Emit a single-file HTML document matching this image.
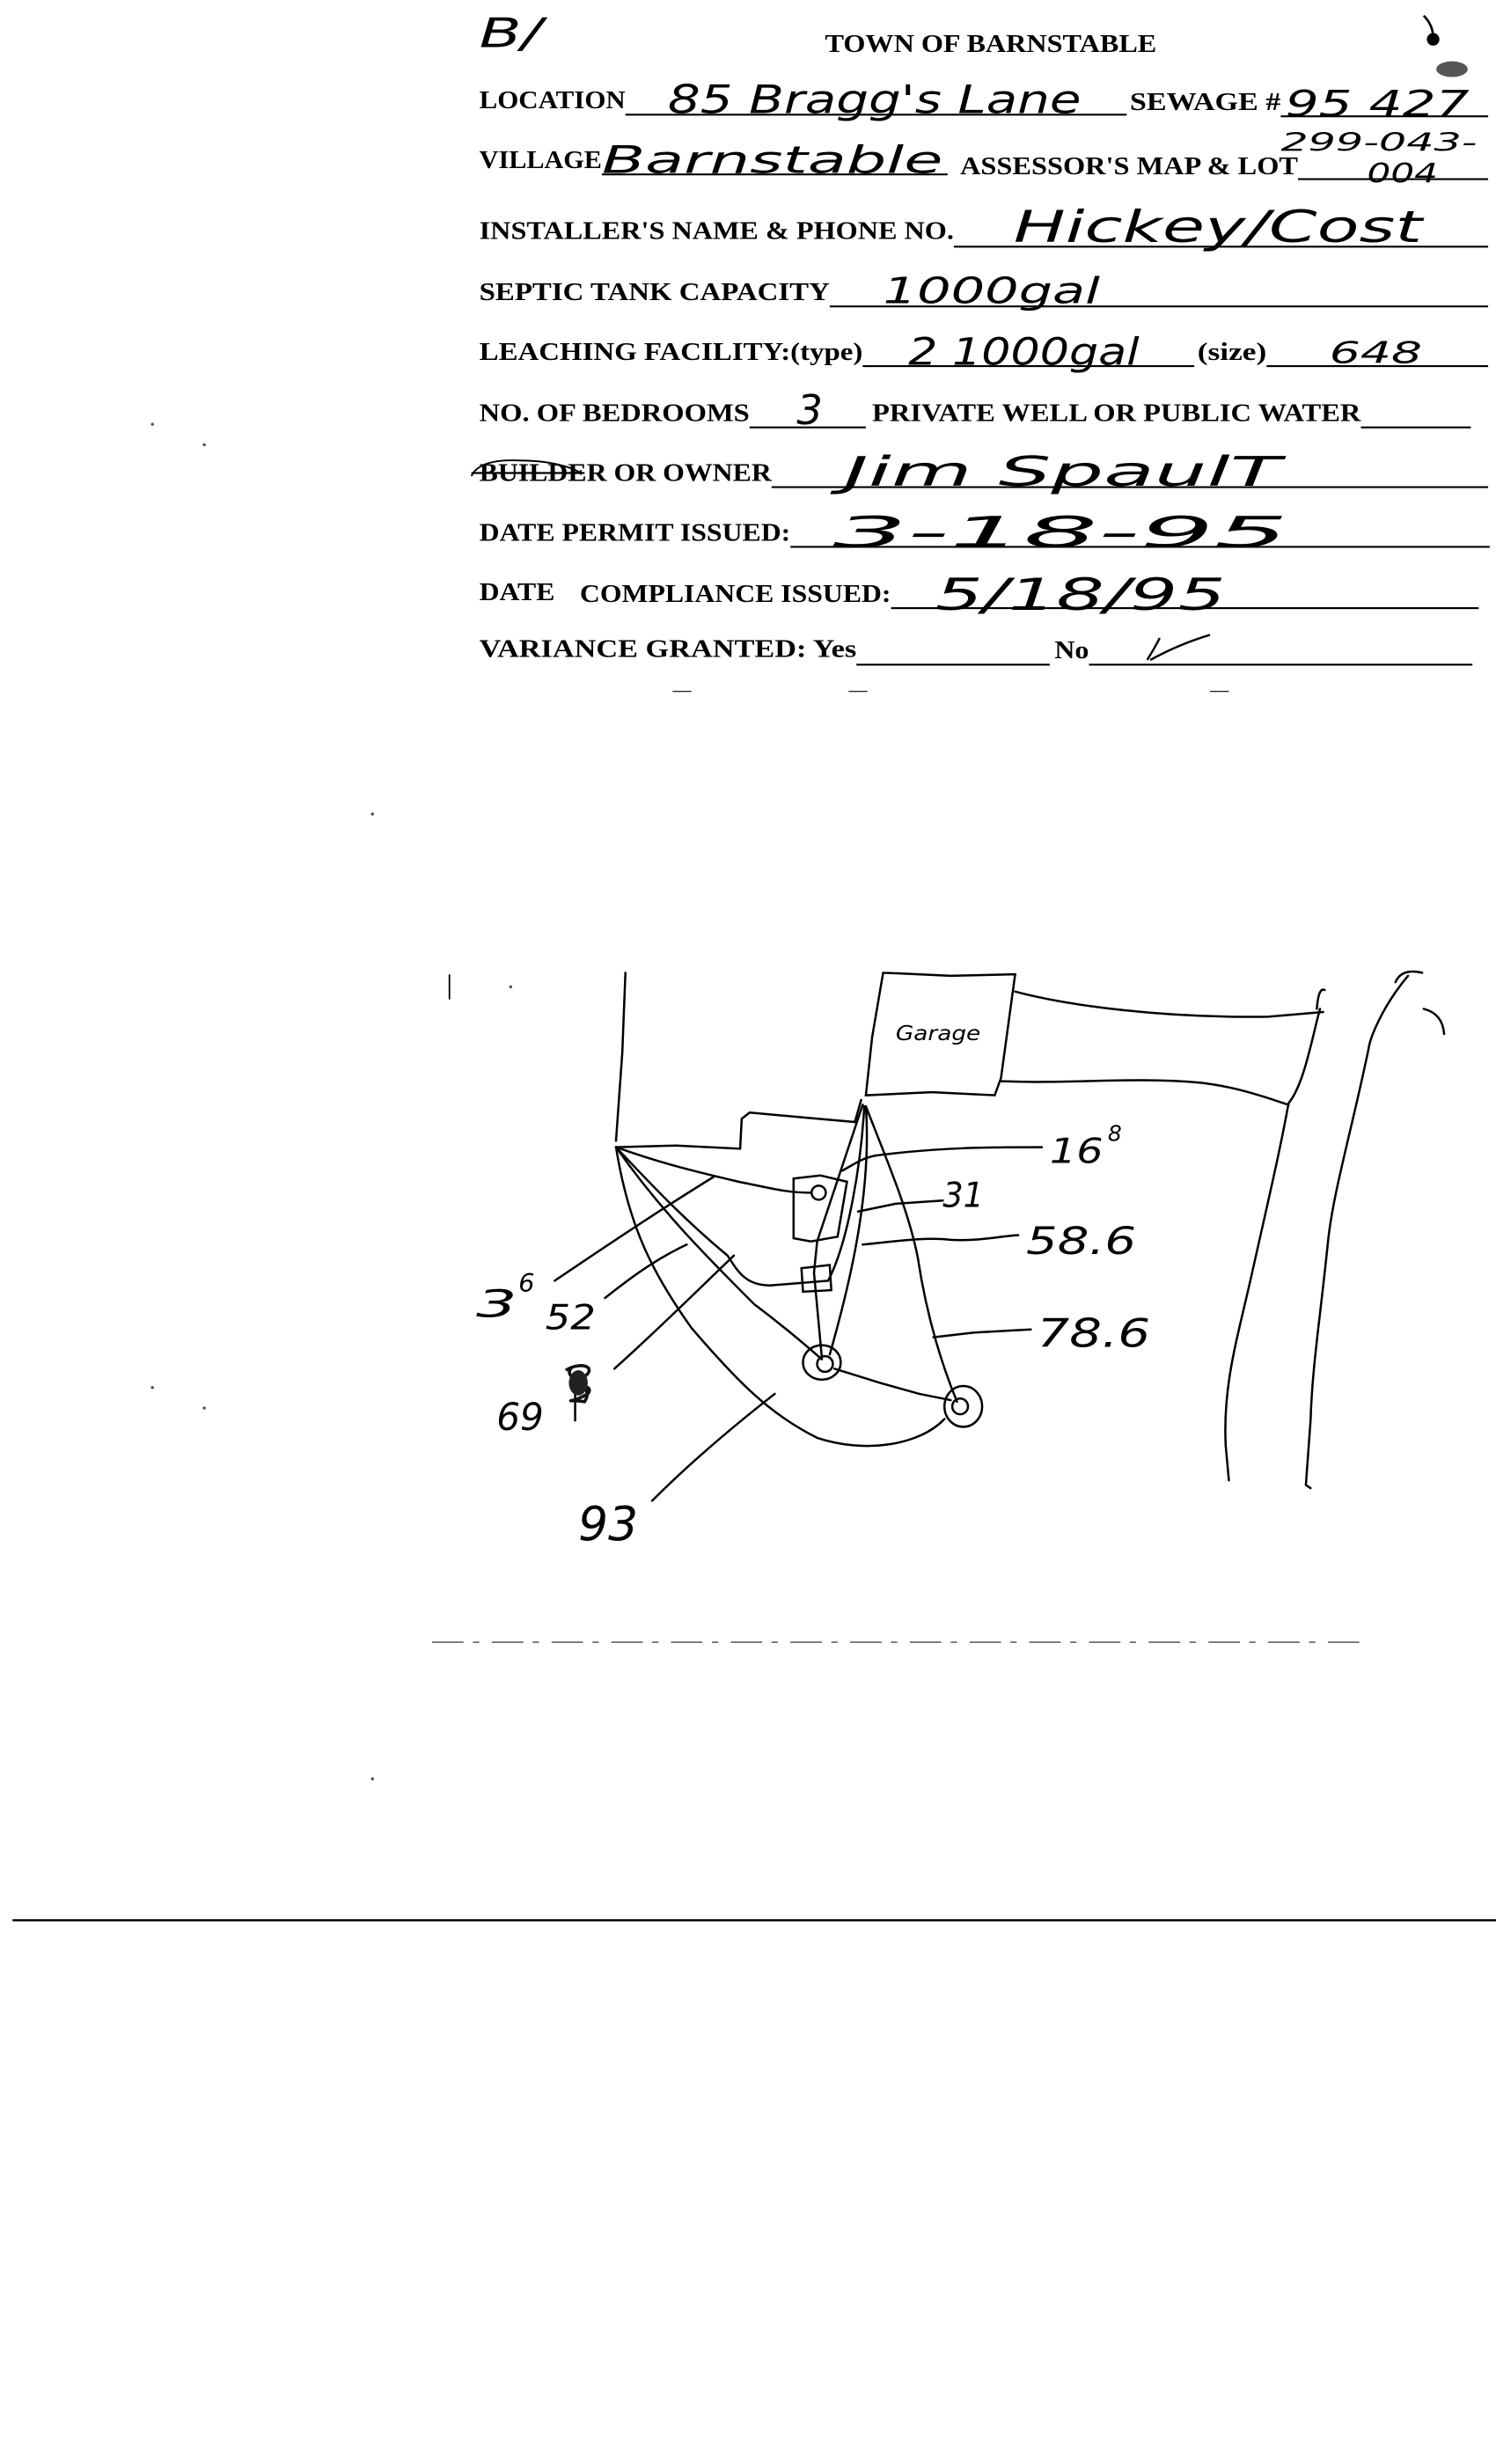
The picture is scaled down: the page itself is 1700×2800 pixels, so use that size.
<!DOCTYPE html>
<html><head><meta charset="utf-8"><style>
html,body{margin:0;padding:0;background:#fff;}
svg{display:block;}
.l{font-family:"Liberation Serif",serif;font-weight:bold;font-size:16px;fill:#000;}
.h{font-family:"DejaVu Sans","Liberation Sans",sans-serif;font-style:italic;fill:#000;font-weight:200;}
</style></head><body>
<svg width="1700" height="2800" viewBox="0 0 952 1568" preserveAspectRatio="none" xmlns="http://www.w3.org/2000/svg">
<g stroke="#000" stroke-width="1.2" fill="none">
<line x1="398" y1="73" x2="717" y2="73"/><line x1="815" y1="74" x2="947" y2="74"/>
<line x1="383" y1="111" x2="603" y2="111"/><line x1="826" y1="114" x2="947" y2="114"/>
<line x1="607" y1="157" x2="947" y2="157"/>
<line x1="528" y1="195" x2="947" y2="195"/>
<line x1="549" y1="233" x2="760" y2="233"/><line x1="806" y1="233" x2="947" y2="233"/>
<line x1="477" y1="272" x2="551" y2="272"/><line x1="866" y1="272" x2="936" y2="272"/>
<line x1="491" y1="310" x2="947" y2="310"/>
<line x1="503" y1="348" x2="948" y2="348"/>
<line x1="567" y1="387" x2="941" y2="387"/>
<line x1="545" y1="423" x2="668" y2="423"/><line x1="693" y1="423" x2="937" y2="423"/>
<line x1="8" y1="1222" x2="952" y2="1222" stroke-width="1.4"/>
<line x1="275" y1="1045" x2="870" y2="1045" stroke-width="0.7" stroke-dasharray="20 6 4 8" stroke="#333"/>
<line x1="428" y1="440" x2="440" y2="440" stroke-width="0.6"/><line x1="540" y1="440" x2="552" y2="440" stroke-width="0.6"/><line x1="770" y1="440" x2="782" y2="440" stroke-width="0.6"/>
</g>
<text class="l" x="525" y="33" textLength="211" lengthAdjust="spacingAndGlyphs">TOWN OF BARNSTABLE</text>
<text class="l" x="305" y="69" textLength="93" lengthAdjust="spacingAndGlyphs">LOCATION</text>
<text class="l" x="719" y="70" textLength="96" lengthAdjust="spacingAndGlyphs">SEWAGE #</text>
<text class="l" x="305" y="107" textLength="78" lengthAdjust="spacingAndGlyphs">VILLAGE</text>
<text class="l" x="611" y="111" textLength="215" lengthAdjust="spacingAndGlyphs">ASSESSOR'S  MAP &amp; LOT</text>
<text class="l" x="305" y="152" textLength="302" lengthAdjust="spacingAndGlyphs">INSTALLER'S NAME &amp; PHONE NO.</text>
<text class="l" x="305" y="191" textLength="223" lengthAdjust="spacingAndGlyphs">SEPTIC TANK CAPACITY</text>
<text class="l" x="305" y="229" textLength="244" lengthAdjust="spacingAndGlyphs">LEACHING FACILITY:(type)</text>
<text class="l" x="762" y="229" textLength="44" lengthAdjust="spacingAndGlyphs">(size)</text>
<text class="l" x="305" y="268" textLength="172" lengthAdjust="spacingAndGlyphs">NO. OF BEDROOMS</text>
<text class="l" x="555" y="268" textLength="311" lengthAdjust="spacingAndGlyphs">PRIVATE WELL OR PUBLIC WATER</text>
<text class="l" x="305" y="306" textLength="186" lengthAdjust="spacingAndGlyphs">BUILDER OR OWNER</text>
<line x1="300" y1="301" x2="372" y2="301" stroke="#000" stroke-width="1.3"/>
<path d="M300 303 Q305 292 330 293 Q355 293 370 301" stroke="#000" fill="none" stroke-width="1.1"/>
<text class="l" x="305" y="344" textLength="198" lengthAdjust="spacingAndGlyphs">DATE PERMIT ISSUED:</text>
<text class="l" x="305" y="382" textLength="48" lengthAdjust="spacingAndGlyphs">DATE</text>
<text class="l" x="369" y="383" textLength="198" lengthAdjust="spacingAndGlyphs">COMPLIANCE ISSUED:</text>
<text class="l" x="305" y="418" textLength="240" lengthAdjust="spacingAndGlyphs">VARIANCE GRANTED:  Yes</text>
<text class="l" x="671" y="419" textLength="22" lengthAdjust="spacingAndGlyphs">No</text>
<text class="h" x="305" y="30" font-size="26" textLength="40" lengthAdjust="spacingAndGlyphs">B/</text>
<text class="h" x="425" y="72" font-size="25" textLength="263" lengthAdjust="spacingAndGlyphs">85 Bragg's Lane</text>
<text class="h" x="818" y="74" font-size="23" textLength="117" lengthAdjust="spacingAndGlyphs">95 427</text>
<text class="h" x="383" y="110" font-size="24" textLength="217" lengthAdjust="spacingAndGlyphs">Barnstable</text>
<text class="h" x="815" y="96" font-size="16" textLength="125" lengthAdjust="spacingAndGlyphs">299-043-</text>
<text class="h" x="870" y="116" font-size="17" textLength="45" lengthAdjust="spacingAndGlyphs">004</text>
<text class="h" x="645" y="154" font-size="28" textLength="260" lengthAdjust="spacingAndGlyphs">Hickey/Cost</text>
<text class="h" x="562" y="193" font-size="23" textLength="138" lengthAdjust="spacingAndGlyphs">1000gal</text>
<text class="h" x="578" y="232" font-size="24" textLength="147" lengthAdjust="spacingAndGlyphs">2  1000gal</text>
<text class="h" x="846" y="231" font-size="19" textLength="59" lengthAdjust="spacingAndGlyphs">648</text>
<text class="h" x="507" y="270" font-size="26">3</text>
<text class="h" x="537" y="309" font-size="26" textLength="278" lengthAdjust="spacingAndGlyphs">Jim SpaulT</text>
<text class="h" x="530" y="348" font-size="27" textLength="290" lengthAdjust="spacingAndGlyphs">3-18-95</text>
<text class="h" x="595" y="388" font-size="28" textLength="185" lengthAdjust="spacingAndGlyphs">5/18/95</text>
<path d="M730 420 Q735 412 738 406 M732 420 Q750 410 770 404" stroke="#000" fill="none" stroke-width="1.4"/>
<circle cx="912" cy="25" r="4"/><path d="M906 10 Q912 16 912 24" stroke="#000" fill="none" stroke-width="1.5"/>
<ellipse cx="924" cy="44" rx="10" ry="5" fill="#555"/>
<g stroke="#000" stroke-width="1.4" fill="none" stroke-linecap="round">
<path d="M398 619 L396 670 L392 726"/>
<path d="M392 730 L430 729 L471 731 L472 712 L477 708 L510 711 L544 714 L548 700"/>
<path d="M562 619 L555 660 L551 697 L593 695 L633 697 L637 686 L646 620 L605 621 L562 619"/>
<path d="M646 631 C680 640 740 648 807 647 L842 644"/>
<path d="M637 688 C680 690 720 685 764 689 C790 692 810 700 820 703"/>
<path d="M840 642 C835 660 830 690 820 702 C815 730 808 760 797 809 C788 850 778 880 780 920 L782 942"/>
<path d="M838 642 Q839 628 843 630"/>
<path d="M896 621 C880 640 872 660 871 667 C860 720 848 760 845 791 C840 840 835 870 834 904 L831 945 L834 947"/>
<path d="M888 625 Q892 616 905 619"/>
<path d="M906 642 Q918 645 919 658"/>
<path d="M505 750 L522 748 L539 752 L533 787 L516 790 L505 788 Z"/>
<circle cx="521" cy="759" r="4.5"/>
<path d="M510 807 L528 805 L529 821 L511 822 Z"/>
<ellipse cx="523" cy="867" rx="12" ry="11"/><circle cx="525" cy="868" r="5"/>
<ellipse cx="613" cy="895" rx="12" ry="13"/><circle cx="611" cy="895" r="5"/>
<path d="M531 871 L560 880 L585 887 L605 891"/>
<path d="M392 730 C420 740 440 745 470 752 C490 756 500 759 516 759"/>
<path d="M392 730 C420 760 440 780 463 799 C470 810 475 818 490 818 L527 815"/>
<path d="M392 730 C420 770 450 800 480 830 C500 845 515 858 523 865"/>
<path d="M392 730 C400 780 415 810 440 845 C470 880 490 900 520 915 C550 925 585 920 601 903"/>
<path d="M549 703 L520 790 L518 810 L523 864"/>
<path d="M550 704 C548 740 540 790 527 815"/>
<path d="M551 704 C555 760 540 820 528 862"/>
<path d="M551 704 C565 740 578 770 584 800 C590 840 600 870 609 892"/>
<path d="M536 745 C545 740 550 736 560 735 C600 730 630 730 663 730"/>
<path d="M546 771 L570 766 L600 764"/>
<path d="M549 792 C570 790 588 787 605 789 C625 790 640 786 648 786"/>
<path d="M594 851 L620 848 L656 846"/>
<path d="M353 815 C390 790 420 770 454 749"/>
<path d="M385 826 C405 810 420 800 437 792"/>
<path d="M391 871 C420 845 445 820 467 799"/>
<path d="M415 955 C440 930 470 905 493 887"/>
<path d="M366 884 L366 904" stroke-width="1.4"/>
</g>
<g stroke="#111" stroke-width="2" fill="none">
<path d="M360 872 C370 866 380 870 372 876 C358 882 380 880 374 887 C362 894 358 890 372 892 C380 880 356 878 364 870"/>
</g>
<ellipse cx="368" cy="880" rx="6" ry="8" fill="#222"/>
<text class="h" x="570" y="662" font-size="13" textLength="54" lengthAdjust="spacingAndGlyphs">Garage</text>
<text class="h" x="668" y="740" font-size="22" textLength="34" lengthAdjust="spacingAndGlyphs">16</text>
<text class="h" x="705" y="726" font-size="14">8</text>
<text class="h" x="600" y="768" font-size="22" textLength="26" lengthAdjust="spacingAndGlyphs">31</text>
<text class="h" x="653" y="798" font-size="24" textLength="70" lengthAdjust="spacingAndGlyphs">58.6</text>
<text class="h" x="660" y="857" font-size="25" textLength="72" lengthAdjust="spacingAndGlyphs">78.6</text>
<text class="h" x="303" y="838" font-size="24" textLength="26" lengthAdjust="spacingAndGlyphs">3</text>
<text class="h" x="330" y="822" font-size="16">6</text>
<text class="h" x="347" y="846" font-size="22" textLength="32" lengthAdjust="spacingAndGlyphs">52</text>
<text class="h" x="316" y="910" font-size="24" textLength="30" lengthAdjust="spacingAndGlyphs">69</text>
<text class="h" x="368" y="980" font-size="30" textLength="38" lengthAdjust="spacingAndGlyphs">93</text>
<g fill="#555">
<circle cx="97" cy="270" r="1"/><circle cx="130" cy="283" r="1"/><circle cx="97" cy="883" r="1"/><circle cx="130" cy="896" r="1"/>
<circle cx="237" cy="518" r="1"/><circle cx="237" cy="1132" r="1"/><circle cx="325" cy="628" r="1"/>
</g>
<line x1="286" y1="620" x2="286" y2="636" stroke="#000" stroke-width="1"/>
</svg>
</body></html>
